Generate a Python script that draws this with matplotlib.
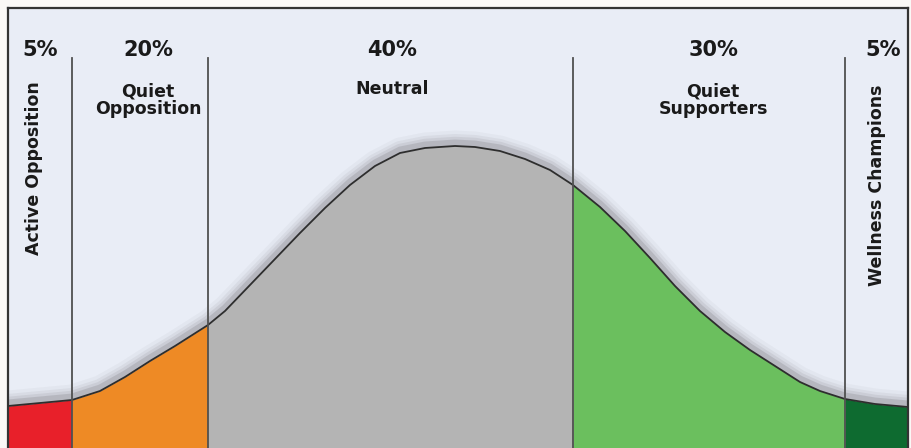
import matplotlib.pyplot as plt

# curve (pixel coords inside the frame, y grows downward)
curve_x = [8, 40, 72, 100, 125, 150, 175, 208, 225, 250, 275, 300, 325, 350, 375, 400,
           425, 455, 475, 500, 525, 550, 573, 600, 625, 650, 675, 700, 725, 750, 775,
           800, 820, 845, 875, 908]
curve_y = [406, 403, 400, 391, 377, 361, 346, 325, 311, 285, 259, 233, 208, 185, 166, 153,
           148, 146, 147, 151, 159, 170, 185, 207, 231, 258, 286, 311, 332, 350, 366,
           382, 391, 399, 404, 407]

# segment edges and labels
edges = [8, 72, 208, 573, 845, 908]
pcts = ["5%", "20%", "40%", "30%", "5%"]
names = ["Active Opposition", "Quiet\nOpposition", "Neutral", "Quiet\nSupporters", "Wellness Champions"]
colors = ["#E8202A", "#EE8A25", "#B4B4B4", "#6BBF5E", "#0E6B30"]

fig = plt.figure(figsize=(9.11, 4.48), dpi=100)
fig.patch.set_facecolor("#FAF8F6")
ax = fig.add_axes([8 / 911, 0, 900 / 911, 440 / 448])
ax.set_facecolor("#E9EDF6")
ax.set_xlim(8, 908)
ax.set_ylim(448, 8)
ax.set_xticks([])
ax.set_yticks([])
for s in ["top", "left", "right"]:
    ax.spines[s].set_color("#333333")
    ax.spines[s].set_linewidth(1.6)
ax.spines["bottom"].set_visible(False)

# soft shadow above the curve
shadow_y = [y - 3 for y in curve_y]
for lw, a in [(18, 0.03), (13, 0.05), (9, 0.07), (5, 0.12)]:
    ax.plot(curve_x, shadow_y, color="#202020", lw=lw, alpha=a, zorder=1,
            solid_capstyle="butt", solid_joinstyle="round")

# coloured segments under the curve
for i, c in enumerate(colors):
    lo, hi = edges[i], edges[i + 1]
    xs = [x for x in curve_x if lo <= x <= hi]
    ys = [y for x, y in zip(curve_x, curve_y) if lo <= x <= hi]
    ax.fill_between(xs, ys, 448, color=c, lw=0, zorder=2)

ax.plot(curve_x, curve_y, color="#2E2E2E", lw=1.3, zorder=3, solid_joinstyle="round")

# dividers
for x in edges[1:-1]:
    ax.plot([x, x], [58, 448], color="#505050", lw=1.3, zorder=4)

# labels
txt = dict(color="#1A1A1A", fontweight="bold", family="DejaVu Sans", zorder=5)
centers = [40, 148, 392, 713, 883]
for i in range(5):
    ax.text(centers[i], 50, pcts[i], ha="center", va="center", fontsize=15, **txt)

ax.text(34, 168, names[0], rotation=90, ha="center", va="center", fontsize=12.5, **txt)
ax.text(877, 185, names[4], rotation=90, ha="center", va="center", fontsize=12.5, **txt)
for i in [1, 3]:
    ax.text(centers[i], 100, names[i], ha="center", va="center", fontsize=12.5,
            linespacing=1.0, **txt)
ax.text(centers[2], 89, names[2], ha="center", va="center", fontsize=12.5, **txt)

fig.savefig("out.png", dpi=100, facecolor=fig.get_facecolor())
